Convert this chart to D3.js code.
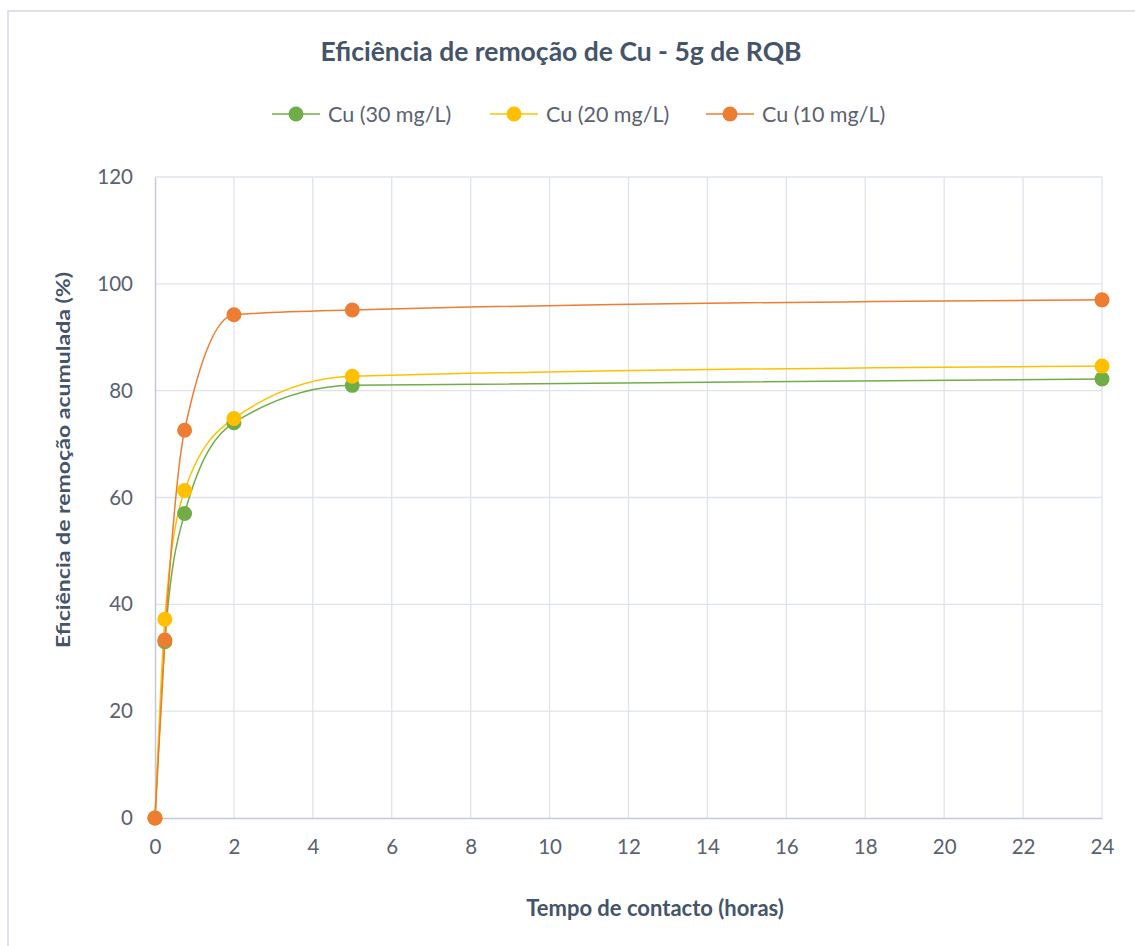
<!DOCTYPE html>
<html><head><meta charset="utf-8">
<script src="https://cdn.jsdelivr.net/npm/d3@7"></script>
<style>
body{margin:0;background:#fff;}
svg{display:block;}
</style></head>
<body>
<svg id="chart" width="1135" height="946"></svg>
<script>
const hours = [0, 0.25, 0.75, 2, 5, 24];
const cu30 = [0, 33.0, 57.0, 74.0, 81.0, 82.2];
const cu20 = [0, 37.2, 61.3, 74.8, 82.7, 84.6];
const cu10 = [0, 33.3, 72.6, 94.2, 95.1, 97.0];
const seriesNames = ["Cu (30 mg/L)", "Cu (20 mg/L)", "Cu (10 mg/L)"];
const seriesColors = ["#70AD47", "#FFC000", "#ED7D31"];
const xTicks = [0,2,4,6,8,10,12,14,16,18,20,22,24];
const yTicks = [0,20,40,60,80,100,120];
const title = "Eficiência de remoção de Cu - 5g de RQB";
const xTitle = "Tempo de contacto (horas)";
const yTitle = "Eficiência de remoção acumulada (%)";

const series = [cu30, cu20, cu10].map((vals,i)=>({name:seriesNames[i], color:seriesColors[i], pts: hours.map((h,j)=>[h, vals[j]])}));

const svg = d3.select("#chart");
const font = "Lato, 'Open Sans', sans-serif";
const textCol = "#44546A";
const tickCol = "#5a6170";

// outer border (top/left visible)
svg.append("rect").attr("x",8).attr("y",11).attr("width",1200).attr("height",1000)
  .attr("fill","#fff").attr("stroke","#dde2ea").attr("stroke-width",2);

const L=155, R=1102, T=177, B=818;
const x = d3.scaleLinear().domain([0,24]).range([L,R]);
const y = d3.scaleLinear().domain([0,120]).range([B,T]);

// grid
const g = svg.append("g");
g.selectAll(".hg").data(yTicks.filter(d=>d>0)).join("line")
  .attr("x1",L).attr("x2",R).attr("y1",d=>y(d)).attr("y2",d=>y(d))
  .attr("stroke","#dfe3ea").attr("stroke-width",1.3);
g.selectAll(".vg").data(xTicks.filter(d=>d>0)).join("line")
  .attr("y1",T).attr("y2",B).attr("x1",d=>x(d)).attr("x2",d=>x(d))
  .attr("stroke","#dfe3ea").attr("stroke-width",1.3);

// axes
const xa = svg.append("g").attr("transform",`translate(0,${B})`)
  .call(d3.axisBottom(x).tickValues(xTicks).tickSize(0).tickPadding(21));
const ya = svg.append("g").attr("transform",`translate(${L},0)`)
  .call(d3.axisLeft(y).tickValues(yTicks).tickSize(0).tickPadding(22));
[xa,ya].forEach(a=>{
  a.select(".domain").attr("stroke","#c3cad6").attr("stroke-width",1.5);
  a.selectAll("text").attr("font-family",font).attr("font-size",20.5).attr("fill",tickCol);
});

// lines
const line = d3.line().x(d=>x(d[0])).y(d=>y(d[1])).curve(d3.curveMonotoneX);
series.forEach(s=>{
  svg.append("path").datum(s.pts).attr("d",line).attr("fill","none")
    .attr("stroke",s.color).attr("stroke-width",1.5);
});
series.forEach(s=>{
  svg.append("g").selectAll("circle").data(s.pts).join("circle")
    .attr("cx",d=>x(d[0])).attr("cy",d=>y(d[1])).attr("r",7.5).attr("fill",s.color);
});

// title
svg.append("text").attr("x",561).attr("y",61).attr("text-anchor","middle")
  .attr("font-family",font).attr("font-weight","bold").attr("font-size",26.5)
  .attr("fill",textCol).text(title);

// axis titles
svg.append("text").attr("x",655).attr("y",916).attr("text-anchor","middle")
  .attr("font-family",font).attr("font-weight","bold").attr("font-size",22)
  .attr("fill",textCol).text(xTitle);
svg.append("text").attr("transform","translate(70,460) rotate(-90)").attr("text-anchor","middle")
  .attr("font-family",font).attr("font-weight","bold").attr("font-size",19.5)
  .attr("textLength",376).attr("lengthAdjust","spacingAndGlyphs")
  .attr("fill",textCol).text(yTitle);

// legend
const legX = [272, 490, 706];
series.forEach((s,i)=>{
  const lg = svg.append("g").attr("transform",`translate(${legX[i]},114)`);
  lg.append("line").attr("x1",0).attr("x2",48).attr("y1",0).attr("y2",0).attr("stroke",s.color).attr("stroke-width",1.5);
  lg.append("circle").attr("cx",24).attr("cy",0).attr("r",7.5).attr("fill",s.color);
  lg.append("text").attr("x",56).attr("y",0).attr("dy","0.35em")
    .attr("font-family",font).attr("font-size",21.5).attr("fill",tickCol).text(s.name);
});
</script>
</body></html>
